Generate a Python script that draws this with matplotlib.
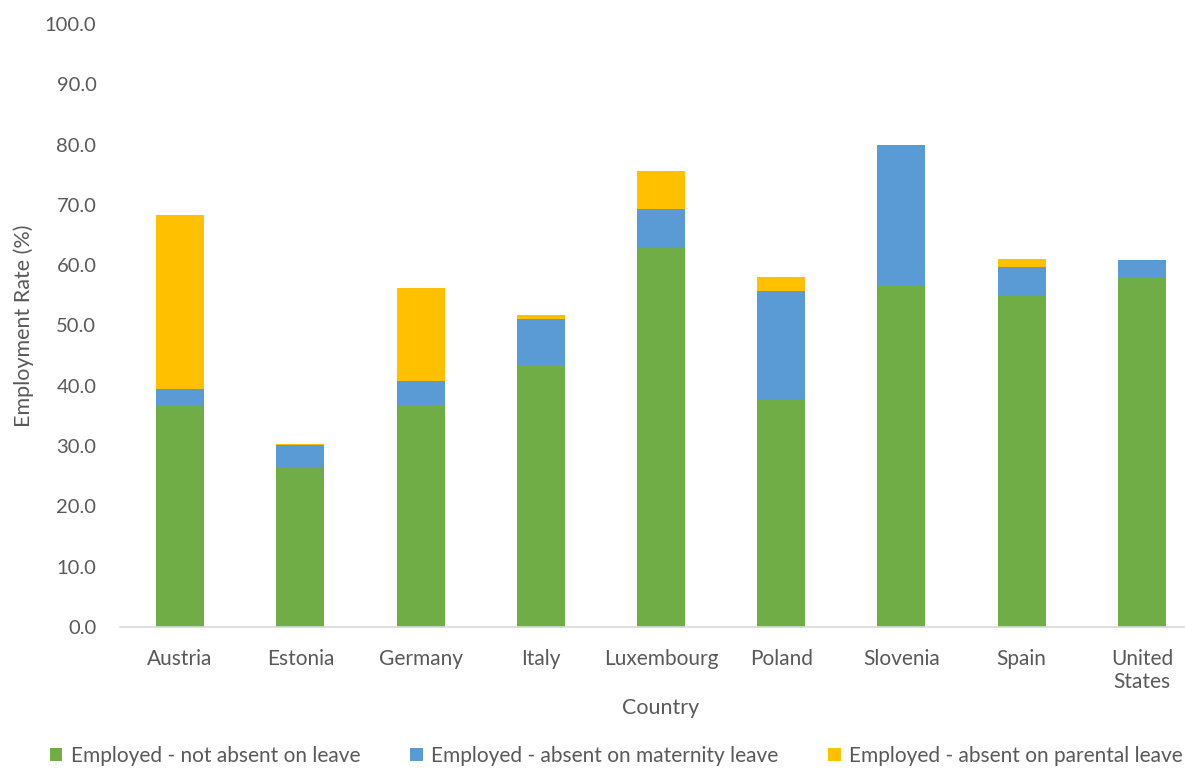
import matplotlib
matplotlib.use("Agg")
import matplotlib.pyplot as plt
import numpy as np

plt.rcParams['font.family'] = ['Lato', 'DejaVu Sans']

countries = ["Austria", "Estonia", "Germany", "Italy", "Luxembourg",
             "Poland", "Slovenia", "Spain", "United\nStates"]
not_absent = [36.6, 26.5, 36.8, 43.4, 62.9, 37.6, 56.6, 54.9, 57.9]
maternity = [2.9, 3.6, 4.0, 7.6, 6.4, 18.1, 23.4, 4.8, 2.9]
parental = [28.8, 0.2, 15.4, 0.8, 6.3, 2.3, 0.0, 1.3, 0.0]

green = "#70AD47"
blue = "#5B9BD5"
orange = "#FFC000"
text_col = "#595959"

fig = plt.figure(figsize=(11.85, 7.69), dpi=100)
ax = fig.add_axes([120 / 1185, (769 - 627) / 769, 1082 / 1185, 603 / 769])

x = np.arange(len(countries))
w = 0.4
b1 = np.array(not_absent)
b2 = b1 + np.array(maternity)
ax.bar(x, not_absent, w, color=green, label="Employed - not absent on leave")
ax.bar(x, maternity, w, bottom=b1, color=blue, label="Employed - absent on maternity leave")
ax.bar(x, parental, w, bottom=b2, color=orange, label="Employed - absent on parental leave")

ax.set_xlim(-0.5, len(countries) - 0.5)
ax.set_ylim(0, 100)
ax.set_yticks(np.arange(0, 101, 10))
ax.set_yticklabels([f"{v:.1f}" for v in np.arange(0, 101, 10)])
ax.set_xticks(x)
ax.set_xticklabels(countries)

for s in ["top", "right", "left"]:
    ax.spines[s].set_visible(False)
ax.spines["bottom"].set_color("#D9D9D9")
ax.spines["bottom"].set_linewidth(1.2)
ax.tick_params(axis="both", length=0, labelsize=14.5, colors=text_col)
ax.tick_params(axis="x", labelsize=15, pad=16)
ax.tick_params(axis="y", pad=17)

ax.set_xlabel("Country", fontsize=15.5, color=text_col, labelpad=4)
ax.set_ylabel("Employment Rate (%)", fontsize=15.5, color=text_col, labelpad=8)

fig.legend(loc="lower center", bbox_to_anchor=(0.52, -0.02), ncol=3, frameon=False,
           fontsize=15, labelcolor=text_col, handlelength=0.6, handleheight=0.6,
           handletextpad=0.4, columnspacing=2.4)

fig.savefig("out.png", dpi=100)
